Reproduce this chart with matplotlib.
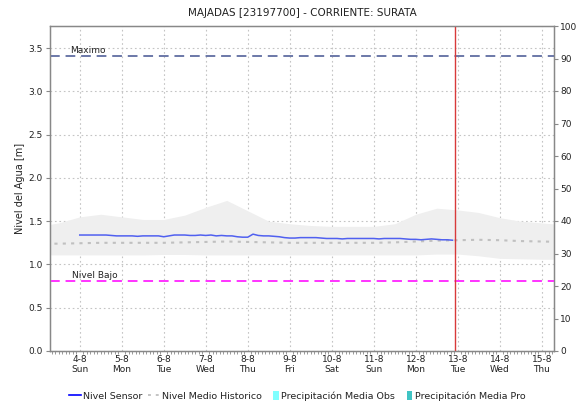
import matplotlib
matplotlib.use("Agg")
import matplotlib.pyplot as plt
import matplotlib.dates as mdates
from matplotlib.lines import Line2D
from matplotlib.patches import Patch, Rectangle
from matplotlib.legend_handler import HandlerPatch
import pandas as pd
import numpy as np

plt.rcParams['font.family'] = ['DejaVu Sans']

title = "MAJADAS [23197700] - CORRIENTE: SURATA"
ylabel = "Nivel del Agua [m]"

tick_days = ["2023-08-%02d" % d for d in range(4, 16)]
tick_labels = ["4-8\nSun", "5-8\nMon", "6-8\nTue", "7-8\nWed", "8-8\nThu", "9-8\nFri",
               "10-8\nSat", "11-8\nSun", "12-8\nMon", "13-8\nTue", "14-8\nWed", "15-8\nThu"]

# Sensor level, every 3 hours from 4-8 00:00 to 12-8 21:00
sensor_values = [
    1.34, 1.34, 1.34, 1.34, 1.34, 1.34, 1.335, 1.33,
    1.33, 1.33, 1.33, 1.325, 1.33, 1.33, 1.33, 1.33,
    1.32, 1.33, 1.34, 1.34, 1.34, 1.335, 1.335, 1.34,
    1.335, 1.34, 1.33, 1.335, 1.33, 1.33, 1.32, 1.315,
    1.315, 1.35, 1.335, 1.33, 1.33, 1.325, 1.32, 1.31,
    1.305, 1.305, 1.31, 1.31, 1.31, 1.31, 1.305, 1.30,
    1.30, 1.30, 1.295, 1.30, 1.30, 1.30, 1.30, 1.30,
    1.30, 1.295, 1.30, 1.30, 1.30, 1.30, 1.295, 1.29,
    1.29, 1.285, 1.29, 1.295, 1.29, 1.285, 1.285, 1.28,
]
sensor_times = pd.date_range("2023-08-04 00:00", periods=len(sensor_values), freq="3h")

# Historic band and mean, every 12 hours from 3-8 00:00
hist_upper = [1.44, 1.48, 1.55, 1.58, 1.55, 1.52, 1.52, 1.57, 1.66, 1.74, 1.62, 1.50, 1.47,
              1.45, 1.44, 1.44, 1.44, 1.47, 1.58, 1.65, 1.63, 1.60, 1.54, 1.50, 1.48, 1.46]
hist_lower = [1.11, 1.11, 1.11, 1.11, 1.11, 1.11, 1.115, 1.115, 1.11, 1.11, 1.11, 1.11, 1.11,
              1.11, 1.11, 1.11, 1.11, 1.11, 1.11, 1.12, 1.12, 1.10, 1.07, 1.065, 1.06, 1.06]
hist_mean = [1.24, 1.24, 1.245, 1.25, 1.25, 1.25, 1.25, 1.255, 1.26, 1.265, 1.26, 1.255, 1.25,
             1.25, 1.25, 1.25, 1.25, 1.255, 1.265, 1.275, 1.28, 1.285, 1.28, 1.27, 1.265, 1.26]
hist_times = pd.date_range("2023-08-03 00:00", periods=len(hist_upper), freq="12h")

nivel_maximo = 3.41
nivel_bajo = 0.81
now_time = pd.Timestamp("2023-08-12 22:20")

x_start = pd.Timestamp("2023-08-03 07:00")
x_end = pd.Timestamp("2023-08-15 07:00")

fig = plt.figure(figsize=(5.77, 4.07), dpi=100)
ax = fig.add_axes([50/577, 1-351/407, 504/577, 325/407])

ax.fill_between(hist_times, hist_lower, hist_upper, color='#efefef', linewidth=0, zorder=1)
ax.plot(hist_times, hist_mean, color='#c0c0c0', linestyle=(0, (1.5, 2.5)), linewidth=1.5, zorder=2)
ax.plot(sensor_times, sensor_values, color='#5060f0', linewidth=1.1, zorder=4)

ax.axhline(nivel_maximo, color='#6b78a8', linestyle=(0, (5, 3)), linewidth=1.4, zorder=3)
ax.axhline(nivel_bajo, color='#ff33ff', linestyle=(0, (5, 3)), linewidth=1.4, zorder=3)
ax.axvline(now_time, color='#d83a3a', linewidth=1.0, zorder=5)

ax.text(pd.Timestamp("2023-08-03 18:30"), nivel_maximo + 0.01, "Maximo", fontsize=6.5,
        color='#222222', va='bottom', ha='left')
ax.text(pd.Timestamp("2023-08-03 19:30"), nivel_bajo + 0.01, "Nivel Bajo", fontsize=6.5,
        color='#222222', va='bottom', ha='left')

ax.set_xlim(x_start, x_end)
ax.set_ylim(0, 3.755)
ax.set_yticks(np.arange(0, 3.51, 0.5))
ax.set_yticklabels(["%.1f" % v for v in np.arange(0, 3.51, 0.5)])
ax.set_xticks(pd.to_datetime(tick_days))
ax.set_xticklabels(tick_labels, linespacing=1.1)
ax.xaxis.set_minor_locator(mdates.HourLocator(byhour=range(0, 24, 2)))
ax.tick_params(axis='x', which='major', length=0, pad=3, labelsize=6.5, colors='#222222')
ax.tick_params(axis='x', which='minor', length=2, color='#888888', width=0.6)
ax.tick_params(axis='y', length=3, labelsize=6.5, colors='#222222', color='#888888', pad=2)
ax.grid(True, which='major', color='#c4c4c4', linestyle=(0, (1.5, 2.5)), linewidth=0.8)
ax.set_axisbelow(True)
for s in ax.spines.values():
    s.set_color('#888888')
    s.set_linewidth(1.0)
ax.set_ylabel(ylabel, fontsize=7, color='#222222', labelpad=3)
ax.set_title(title, fontsize=7.5, color='#222222', pad=7)

ax2 = ax.twinx()
ax2.set_ylim(0, 100)
ax2.set_yticks(range(0, 101, 10))
ax2.tick_params(axis='y', length=3, labelsize=6.5, colors='#222222', color='#888888', pad=1.5)
for s in ax2.spines.values():
    s.set_color('#888888')


def narrow_patch(legend, orig_handle, xdescent, ydescent, width, height, fontsize):
    return Rectangle((width - 0.45 * width - xdescent, -ydescent - 0.15 * height),
                     0.45 * width, 1.3 * height)


handles = [
    Line2D([], [], color='#0000ff', linewidth=1.2),
    Line2D([], [], color='#c4c4c4', linestyle=(0, (1.5, 2.5)), linewidth=1.4),
    Patch(facecolor='#80ffff', edgecolor='none'),
    Patch(facecolor='#40c4c4', edgecolor='none'),
]
labels = ["Nivel Sensor", "Nivel Medio Historico", "Precipitación Media Obs", "Precipitación Media Pro"]
fig.legend(handles, labels, loc='center', bbox_to_anchor=(297/577, 1-396/407), ncol=4,
           frameon=False, fontsize=6.8, handlelength=1.3, handletextpad=0.25, columnspacing=0.5,
           labelcolor='#222222',
           handler_map={Patch: HandlerPatch(patch_func=narrow_patch)})

fig.savefig("out.png", dpi=100)
